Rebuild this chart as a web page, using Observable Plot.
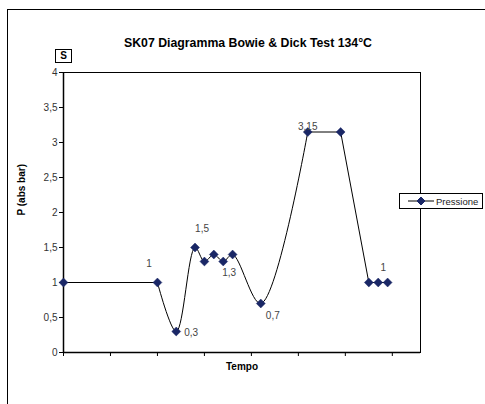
<!DOCTYPE html>
<html>
<head>
<meta charset="utf-8">
<script src="https://cdn.jsdelivr.net/npm/d3@7"></script>
<script src="https://cdn.jsdelivr.net/npm/@observablehq/plot@0.6"></script>
<style>
  html, body { margin: 0; padding: 0; background: #fff; }
  #wrap { position: relative; width: 485px; height: 404px; overflow: hidden; font-family: "Liberation Sans", Arial, sans-serif; -webkit-font-smoothing: antialiased; }
  #border { position: absolute; left: 7px; top: 9px; width: 520px; height: 440px; border: 1px solid #000; box-sizing: border-box; }
  #sbox { position: absolute; left: 55px; top: 49px; width: 17px; height: 14px; border: 1px solid #000; box-sizing: border-box; font-size: 10px; font-weight: bold; text-align: center; line-height: 12px; background: #fff; }
  #legend { position: absolute; left: 399px; top: 193px; width: 84px; height: 16px; border: 1px solid #000; box-sizing: border-box; background: #fff; font-size: 9.5px; display: flex; align-items: center; color: #222; }
  #legend svg { margin-left: 8px; margin-right: 2px; }
  #chart { position: absolute; left: 0; top: 0; }
</style>
</head>
<body>
<div id="wrap">
  <div id="border"></div>
  <div id="chart"></div>
  <div id="sbox">S</div>
  <div id="legend"><svg width="26" height="10"><line x1="0" y1="5" x2="26" y2="5" stroke="#000" stroke-width="1"/><path d="M13,1 L17,5 L13,9 L9,5 Z" fill="#1a2766" stroke="#1a2766"/></svg><span>Pressione</span></div>
</div>
<script>
// Data
const tempo =     [0, 10, 12, 14, 15, 16, 17, 18, 21, 26, 29.5, 32.5, 33.5, 34.5];
const pressione = [1, 1, 0.3, 1.5, 1.3, 1.4, 1.3, 1.4, 0.7, 3.15, 3.15, 1, 1, 1];
const yTicks = [0, 0.5, 1, 1.5, 2, 2.5, 3, 3.5, 4];
const xTicks = [0, 5, 10, 15, 20, 25, 30, 35];
// labelled points (index into series) and label text
const labelIndex = [1, 2, 3, 6, 8, 9, 12];
const labelText  = ["1", "0,3", "1,5", "1,3", "0,7", "3,15", "1"];

const labelOffsets = [
  {dx: -8.5, dy: -19, anchor: "middle"},
  {dx: 8, dy: 1, anchor: "start"},
  {dx: 7, dy: -19, anchor: "middle"},
  {dx: 6, dy: 11, anchor: "middle"},
  {dx: 12, dy: 12, anchor: "middle"},
  {dx: 0, dy: -5, anchor: "middle"},
  {dx: 5, dy: -15, anchor: "middle"}
];

const data = tempo.map((t, i) => ({t, p: pressione[i]}));

// Split the series into runs: flat stretches are drawn straight,
// the rest is smoothed (each run shares its end points with its neighbours).
const runs = [];
let run = 0;
for (let i = 0; i < data.length - 1; i++) {
  const flat = data[i].p === data[i + 1].p;
  if (flat) {
    run++;
    runs.push({...data[i], run}, {...data[i + 1], run});
    run++;
  } else {
    const last = runs[runs.length - 1];
    if (!last || last.run !== run) runs.push({...data[i], run});
    runs.push({...data[i + 1], run});
  }
}

const labels = labelIndex.map((k, j) => ({t: tempo[k], p: pressione[k], text: labelText[j], ...labelOffsets[j]}));
const comma = d => String(d).replace(".", ",");
const navy = "#1a2766";

const chart = Plot.plot({
  width: 485,
  height: 404,
  marginLeft: 63,
  marginRight: 65,
  marginTop: 72,
  marginBottom: 52,
  style: {fontFamily: "'Liberation Sans', Arial, sans-serif", background: "transparent", overflow: "visible"},
  x: {domain: [0, 38], axis: null},
  y: {domain: [0, 4], axis: null},
  marks: [
    Plot.frame({stroke: "#000", strokeWidth: 1}),
    Plot.axisY(yTicks, {tickSize: 4, tickPadding: 2, tickFormat: comma, fontSize: 10, fill: "#333", stroke: "#000", label: null}),
    Plot.axisX(xTicks, {anchor: "bottom", tickSize: 4, tickFormat: () => "", stroke: "#000", label: null}),
    Plot.ruleX([0], {stroke: "#000", strokeWidth: 1.5}),
    Plot.ruleY([0], {stroke: "#000", strokeWidth: 1.5}),
    Plot.line(runs, {x: "t", y: "p", z: "run", curve: "catmull-rom", stroke: "#000", strokeWidth: 1}),
    Plot.dot(data, {x: "t", y: "p", symbol: "diamond2", r: 4, fill: navy, stroke: navy, strokeWidth: 0.5}),
    ...labels.map(l => Plot.text([l], {x: "t", y: "p", text: "text", dx: l.dx, dy: l.dy, textAnchor: l.anchor, fontSize: 10, fill: "#444"})),
    Plot.text(["SK07 Diagramma Bowie & Dick Test 134°C"], {frameAnchor: "top", dx: 6, dy: -34, fontSize: 12.3, fontWeight: "bold", fill: "#000"}),
    Plot.text(["P (abs bar)"], {frameAnchor: "left", dx: -42, dy: 3, rotate: -90, fontSize: 10, fontWeight: "bold", fill: "#000"}),
    Plot.text(["Tempo"], {frameAnchor: "bottom", dy: 17, fontSize: 10, fontWeight: "bold", fill: "#000"})
  ]
});
document.getElementById("chart").appendChild(chart);
</script>
</body>
</html>
